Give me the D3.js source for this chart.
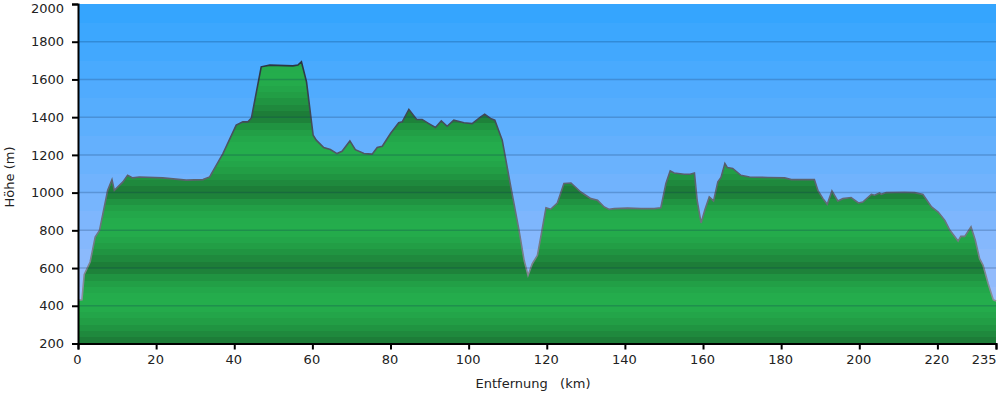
<!DOCTYPE html>
<html>
<head>
<meta charset="utf-8">
<script src="https://cdn.jsdelivr.net/npm/d3@7"></script>
<style>
	body { margin: 0; background: #fff; }
	text { font-family: "DejaVu Sans", Verdana, sans-serif; fill: #222; }
</style>
</head>
<body>
<div id="graphicContainer"></div>
<script>

var distKm = [0, 1.0, 1.6, 3.1, 4.4, 5.5, 7.6, 8.7, 9.3, 11.5, 12.7, 14.0, 15.7, 21.7, 27.7, 32.0, 33.7, 37.1, 40.5, 42.2,
	43.5, 44.4, 46.9, 49.1, 55.0, 56.3, 57.2, 58.5, 60.2, 61.0, 62.9, 64.6, 66.3, 67.6, 69.6, 71.0, 73.2, 75.3, 76.6, 77.9,
	80.0, 82.1, 83.0, 84.7, 86.7, 88.1, 89.8, 91.5, 93.0, 94.5, 96.2, 98.8, 100.9, 103.1, 104.1, 105.6, 106.7, 108.6, 110.8, 112.9,
	114.2, 115.2, 116.3, 117.6, 118.6, 119.8, 121.0, 122.7, 124.4, 126.2, 128.7, 131.3, 133.0, 134.7, 136.0, 137.3, 140.7, 144.1, 147.5, 149.2,
	150.5, 151.6, 152.6, 155.2, 156.7, 157.8, 158.5, 159.5, 160.5, 161.6, 162.7, 163.8, 164.6, 165.6, 166.2, 167.6, 169.7, 171.9, 176.6, 180.9,
	182.6, 188.5, 189.4, 190.7, 191.8, 193.0, 194.5, 195.8, 197.9, 199.8, 200.9, 203.1, 203.9, 205.2, 205.6, 206.9, 211.6, 214.2, 216.3, 218.5,
	220.2, 221.9, 223.2, 225.3, 226.0, 227.0, 228.6, 229.7, 230.8, 231.7, 233.0, 234.3, 235.0]

var elevM = [430, 432, 566, 632, 764, 800, 1012, 1069, 1012, 1057, 1092, 1078, 1083, 1078, 1066, 1069, 1083, 1207, 1358, 1375,
	1375, 1396, 1667, 1676, 1672, 1676, 1694, 1587, 1304, 1278, 1239, 1228, 1207, 1219, 1274, 1228, 1207, 1204, 1239, 1246,
	1313, 1370, 1375, 1441, 1388, 1388, 1366, 1345, 1380, 1352, 1384, 1370, 1366, 1402, 1416, 1393, 1384, 1278, 1030, 800,
	641, 561, 623, 667, 780, 920, 912, 945, 1048, 1051, 1003, 968, 959, 924, 911, 915, 918, 915, 915, 920,
	1048, 1115, 1104, 1097, 1097, 1104, 959, 839, 910, 977, 956, 1057, 1080, 1154, 1133, 1128, 1092, 1083, 1080, 1078,
	1069, 1069, 1012, 968, 938, 1009, 956, 968, 974, 945, 950, 991, 986, 998, 991, 1000, 1002, 1000, 990, 924,
	897, 853, 800, 743, 768, 768, 818, 747, 650, 614, 517, 432, 425]

var xTickValues = [0, 20, 40, 60, 80, 100, 120, 140, 160, 180, 200, 220, 235]
var yTickValues = [200, 400, 600, 800, 1000, 1200, 1400, 1600, 1800, 2000]

var xLabel = "Entfernung   (km)"
var yLabel = "Höhe (m)"

var data = distKm.map(function (d, i) { return { km: d, m: elevM[i] } })

var width = 1000
var height = 394
var margin = {top: 4, right: 4, bottom: 50.5, left: 78}

var svg = d3.select("#graphicContainer").append("svg")
	.attr("width", width)
	.attr("height", height)

var x = d3.scaleLinear()
	.domain([0, 235])
	.range([margin.left, width - margin.right])

var y = d3.scaleLinear()
	.domain([200, 2000])
	.range([height - margin.bottom, margin.top])

var defs = svg.append("defs")

// sky: stepped blue bands, darker at the top
var sky = defs.append("linearGradient")
	.attr("id", "sky")
	.attr("gradientUnits", "userSpaceOnUse")
	.attr("x1", 0).attr("x2", 0)
	.attr("y1", y(2000)).attr("y2", y(200))
var skyCol = d3.interpolateRgb("#35a5fe", "#a6c0fc")
var nSky = 18
for (var i = 0; i < nSky; i++) {
	var c = skyCol(i / (nSky - 1))
	sky.append("stop").attr("offset", i / nSky).attr("stop-color", c)
	sky.append("stop").attr("offset", (i + 1) / nSky).attr("stop-color", c)
}

// ground: repeating dark-bright-dark bands every 400 m
var ground = defs.append("linearGradient")
	.attr("id", "ground")
	.attr("gradientUnits", "userSpaceOnUse")
	.attr("spreadMethod", "repeat")
	.attr("x1", 0).attr("x2", 0)
	.attr("y1", y(1000)).attr("y2", y(600))
var greenCol = function (t) {
	var s = Math.sin(Math.PI * Math.pow(t, 0.85))
	return d3.interpolateRgb("#1c7735", "#24ad4c")(s)
}
var nG = 12
for (var j = 0; j < nG; j++) {
	var g = greenCol((j + 0.5) / nG)
	ground.append("stop").attr("offset", j / nG).attr("stop-color", g)
	ground.append("stop").attr("offset", (j + 1) / nG).attr("stop-color", g)
}

var edge = defs.append("linearGradient")
	.attr("id", "edge")
	.attr("gradientUnits", "userSpaceOnUse")
	.attr("x1", 0).attr("x2", 0)
	.attr("y1", y(1700)).attr("y2", y(400))
edge.append("stop").attr("offset", 0).attr("stop-color", "#2a3442")
edge.append("stop").attr("offset", 1).attr("stop-color", "#8d929c")

svg.append("rect")
	.attr("x", x(0))
	.attr("y", y(2000))
	.attr("width", x(235) - x(0))
	.attr("height", y(200) - y(2000))
	.attr("fill", "url(#sky)")

var area = d3.area()
	.x(function (d) { return x(d.km) })
	.y0(y(200))
	.y1(function (d) { return y(d.m) })

var line = d3.line()
	.x(function (d) { return x(d.km) })
	.y(function (d) { return y(d.m) })

svg.append("path")
	.datum(data)
	.attr("d", area)
	.attr("fill", "url(#ground)")

svg.append("path")
	.datum(data)
	.attr("d", line)
	.attr("fill", "none")
	.attr("stroke", "url(#edge)")
	.attr("stroke-width", 1.6)

// grid lines over everything
svg.append("g")
	.selectAll("line")
	.data(yTickValues.slice(1, -1))
	.enter()
	.append("line")
	.attr("x1", x(0))
	.attr("x2", x(235))
	.attr("y1", function (d) { return y(d) })
	.attr("y2", function (d) { return y(d) })
	.attr("stroke", "#0a2a50")
	.attr("stroke-opacity", 0.22)
	.attr("stroke-width", 1.5)

var xAxis = d3.axisBottom(x)
	.tickValues(xTickValues)
	.tickSize(6)
	.tickPadding(5)
	.tickFormat(d3.format("d"))

var yAxis = d3.axisLeft(y)
	.tickValues(yTickValues)
	.tickSize(6)
	.tickPadding(8)
	.tickFormat(d3.format("d"))

var gx = svg.append("g")
	.attr("transform", "translate(0," + y(200) + ")")
	.call(xAxis)

var gy = svg.append("g")
	.attr("transform", "translate(" + x(0) + ",0)")
	.call(yAxis)

gx.select(".domain").attr("stroke", "#000").attr("stroke-width", 2)
gy.select(".domain").attr("stroke", "#000").attr("stroke-width", 2)
svg.selectAll(".tick line").attr("stroke", "#000").attr("stroke-width", 2)
svg.selectAll(".tick text")
	.attr("font-size", 13)
	.style("font-family", '"DejaVu Sans", Verdana, sans-serif')
	.attr("fill", "#222")
gx.selectAll(".tick text").attr("dx", -1)

// keep the end labels inside the picture
gx.selectAll(".tick text")
	.filter(function (d) { return d === 235 })
	.attr("text-anchor", "end")
	.attr("dx", 0)
gy.selectAll(".tick text")
	.filter(function (d) { return d === 2000 })
	.attr("dy", "0.62em")

svg.append("text")
	.attr("x", 533)
	.attr("y", 388)
	.attr("text-anchor", "middle")
	.attr("font-size", 13)
	.style("white-space", "pre")
	.text(xLabel)

svg.append("text")
	.attr("transform", "translate(14,177) rotate(-90)")
	.attr("text-anchor", "middle")
	.attr("font-size", 13)
	.text(yLabel)

</script>
</body>
</html>
